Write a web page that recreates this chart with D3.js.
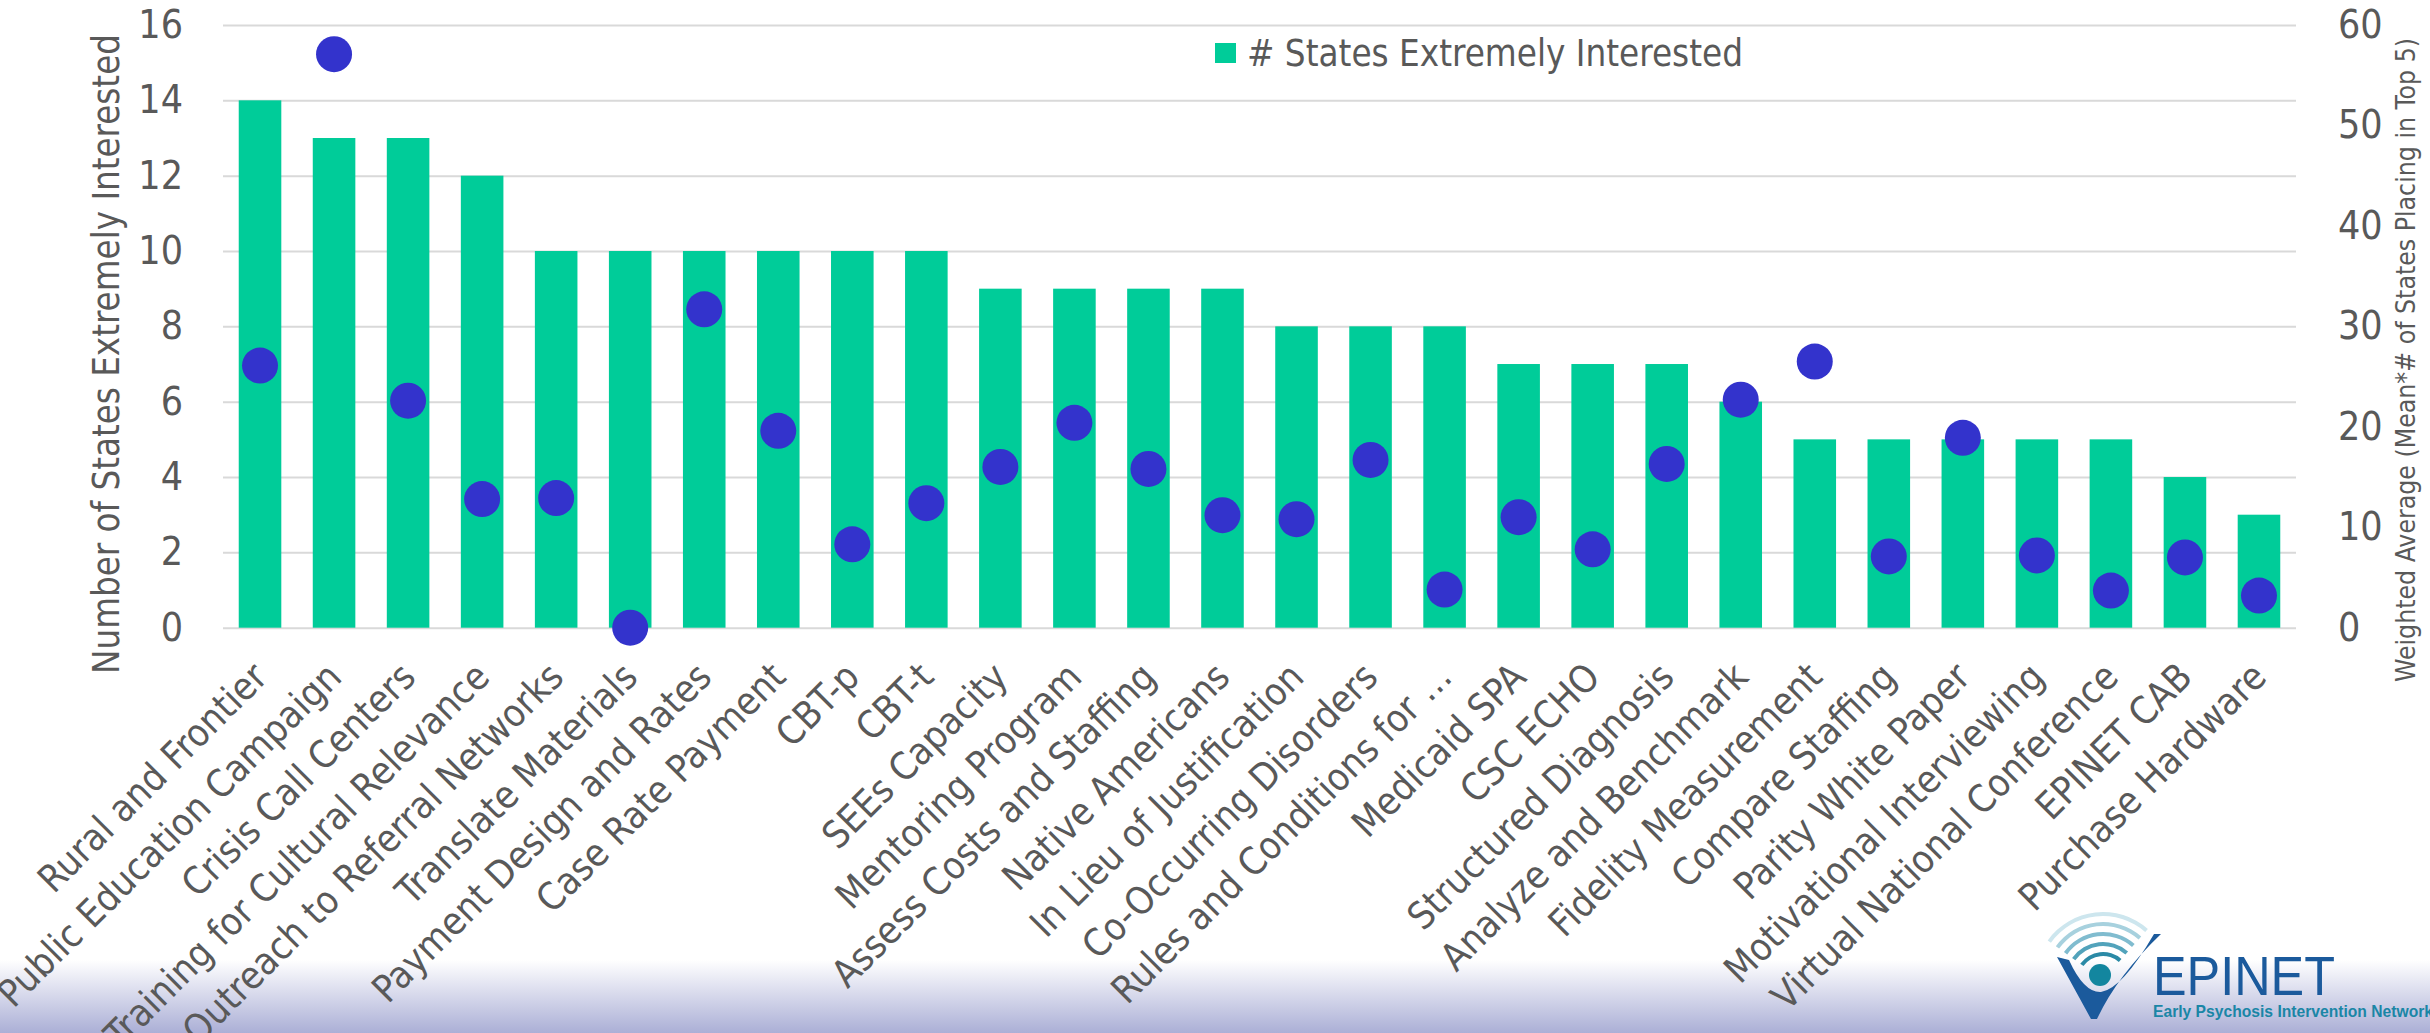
<!DOCTYPE html>
<html>
<head>
<meta charset="utf-8">
<script src="https://cdn.jsdelivr.net/npm/d3@7"></script>
<style>
  html, body { margin: 0; padding: 0; background: #ffffff; }
  svg { display: block; }
  .lbl { font-family: "DejaVu Sans Condensed", "DejaVu Sans", sans-serif; fill: #595959; }
</style>
</head>
<body>
<div id="chart"></div>
<script>
var categories = ["Rural and Frontier", "Public Education Campaign", "Crisis Call Centers",
  "Training for Cultural Relevance", "Outreach to Referral Networks", "Translate Materials",
  "Payment Design and Rates", "Case Rate Payment", "CBT-p", "CBT-t", "SEEs Capacity",
  "Mentoring Program", "Assess Costs and Staffing", "Native Americans", "In Lieu of Justification",
  "Co-Occurring Disorders", "Rules and Conditions for \u2026", "Medicaid SPA", "CSC ECHO",
  "Structured Diagnosis", "Analyze and Benchmark", "Fidelity Measurement", "Compare Staffing",
  "Parity  White Paper", "Motivational Interviewing", "Virtual National Conference",
  "EPINET CAB", "Purchase Hardware"];

// # states extremely interested (left axis)
var statesInterested = [14, 13, 13, 12, 10, 10, 10, 10, 10, 10, 9, 9, 9, 9, 8, 8, 8, 7, 7, 7, 6, 5, 5, 5, 5, 5, 4, 3];

// weighted average (right axis)
var weightedAverage = [26.1, 57.1, 22.6, 12.8, 12.9, 0, 31.7, 19.6, 8.3, 12.4, 16.0, 20.4, 15.8, 11.2,
  10.8, 16.7, 3.8, 11.0, 7.8, 16.3, 22.7, 26.5, 7.1, 18.9, 7.2, 3.7, 7.0, 3.2];

var leftTicks = [0, 2, 4, 6, 8, 10, 12, 14, 16];
var rightTicks = [0, 10, 20, 30, 40, 50, 60];

var width = 2430, height = 1033;
var plot = {left: 223, right: 2296, top: 25, bottom: 627.7};

var svg = d3.select("#chart").append("svg")
    .attr("width", width)
    .attr("height", height);

// background band at the bottom of the slide
var defs = svg.append("defs");
var grad = defs.append("linearGradient")
    .attr("id", "band")
    .attr("x1", 0).attr("y1", 0).attr("x2", 0).attr("y2", 1);
grad.append("stop").attr("offset", "0%").attr("stop-color", "#ffffff");
grad.append("stop").attr("offset", "100%").attr("stop-color", "#abafd6");
svg.append("rect")
    .attr("x", 0).attr("y", 960)
    .attr("width", width).attr("height", height - 960)
    .attr("fill", "url(#band)");

var x = d3.scaleBand()
    .domain(categories)
    .range([plot.left, plot.right])
    .paddingInner(0.425)
    .paddingOuter(0.2125);

var yL = d3.scaleLinear().domain([0, 16]).range([plot.bottom, plot.top]);
var yR = d3.scaleLinear().domain([0, 60]).range([plot.bottom, plot.top]);

// gridlines + left tick labels
var gl = svg.append("g")
    .attr("transform", "translate(" + plot.left + ",0)")
    .call(d3.axisLeft(yL).tickValues(leftTicks).tickSize(-(plot.right - plot.left)).tickPadding(40));
gl.select(".domain").remove();
gl.selectAll(".tick line").attr("stroke", "#d9d9d9").attr("stroke-width", 2);
gl.selectAll(".tick text").attr("class", "lbl").style("font-size", "39px").attr("fill", "#595959");

var gr = svg.append("g")
    .attr("transform", "translate(" + plot.right + ",0)")
    .call(d3.axisRight(yR).tickValues(rightTicks).tickSize(0).tickPadding(42));
gr.select(".domain").remove();
gr.selectAll(".tick text").attr("class", "lbl").style("font-size", "39px").attr("fill", "#595959");

// bars
svg.append("g").selectAll("rect")
    .data(categories)
    .enter().append("rect")
    .attr("x", function (d) { return x(d); })
    .attr("y", function (d, i) { return yL(statesInterested[i]); })
    .attr("width", x.bandwidth())
    .attr("height", function (d, i) { return yL(0) - yL(statesInterested[i]); })
    .attr("fill", "#00cc99");

// dots
svg.append("g").selectAll("circle")
    .data(categories)
    .enter().append("circle")
    .attr("cx", function (d) { return x(d) + x.bandwidth() / 2; })
    .attr("cy", function (d, i) { return yR(weightedAverage[i]); })
    .attr("r", 18)
    .attr("fill", "#3333cc");

// category labels
var gx = svg.append("g")
    .attr("transform", "translate(0," + plot.bottom + ")")
    .call(d3.axisBottom(x).tickSize(0));
gx.select(".domain").remove();
gx.selectAll(".tick text")
    .attr("class", "lbl")
    .style("font-size", "38px")
    .attr("y", 0)
    .attr("dy", "0.35em")
    .attr("text-anchor", "end")
    .attr("transform", "translate(0,42) rotate(-45)");

// axis titles
svg.append("text")
    .attr("class", "lbl")
    .attr("transform", "translate(119,354) rotate(-90)")
    .attr("text-anchor", "middle")
    .style("font-size", "37px")
    .attr("textLength", 640)
    .attr("lengthAdjust", "spacingAndGlyphs")
    .text("Number of States Extremely Interested");

svg.append("text")
    .attr("class", "lbl")
    .attr("transform", "translate(2415,360) rotate(-90)")
    .attr("text-anchor", "middle")
    .style("font-size", "27px")
    .attr("textLength", 644)
    .attr("lengthAdjust", "spacingAndGlyphs")
    .text("Weighted Average (Mean*# of States Placing in Top 5)");

// legend
svg.append("rect")
    .attr("x", 1215).attr("y", 43)
    .attr("width", 21).attr("height", 20)
    .attr("fill", "#00cc99");
svg.append("text")
    .attr("class", "lbl")
    .attr("x", 1247).attr("y", 66)
    .style("font-size", "37px")
    .attr("textLength", 496)
    .attr("lengthAdjust", "spacingAndGlyphs")
    .text("# States Extremely Interested");

// EPINET logo
var logo = svg.append("g");
var arcColors = ["#2b8aa6", "#52a3bb", "#80bccf", "#a7d1de", "#cde6ee"];
var arc = d3.arc();
arcColors.forEach(function (c, i) {
  var r = 24 + i * 10;
  logo.append("path")
      .attr("transform", "translate(2103,980)")
      .attr("d", arc({innerRadius: r, outerRadius: r + 4, startAngle: -0.95, endAngle: 0.72}))
      .attr("fill", c);
});
logo.append("path")
    .attr("d", "M2057,957 L2069,960 Q2084,993 2101,992 Q2122,989 2154,934 L2161,934 Q2117,976 2097,1019 L2091,1019 Z")
    .attr("fill", "#1b5a9c");
logo.append("circle")
    .attr("cx", 2100).attr("cy", 975).attr("r", 11)
    .attr("fill", "#13869f");
logo.append("text")
    .attr("x", 2153).attr("y", 995)
    .style("font-family", "'Liberation Sans Narrow', 'Liberation Sans', sans-serif")
    .style("font-size", "55px")
    .attr("textLength", 182)
    .attr("lengthAdjust", "spacingAndGlyphs")
    .attr("fill", "#1b5a9c")
    .text("EPINET");
logo.append("text")
    .attr("x", 2153).attr("y", 1017)
    .style("font-family", "'Liberation Sans Narrow', 'Liberation Sans', sans-serif")
    .style("font-size", "17px")
    .style("font-weight", "bold")
    .attr("textLength", 280)
    .attr("lengthAdjust", "spacingAndGlyphs")
    .attr("fill", "#1a86a6")
    .text("Early Psychosis Intervention Network");
</script>
</body>
</html>
